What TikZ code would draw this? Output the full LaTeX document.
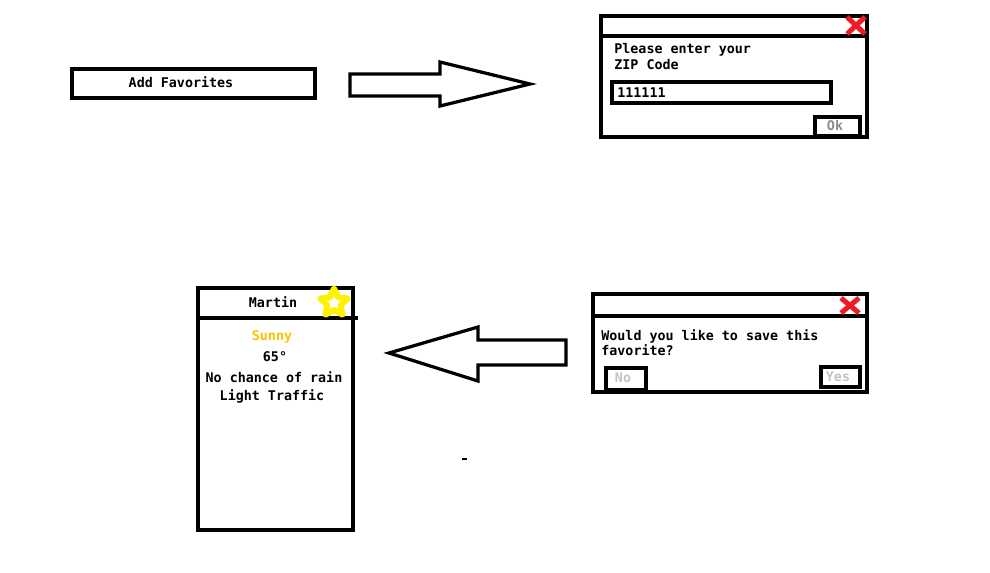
\documentclass[tikz,border=0pt]{standalone}
\usepackage{fontspec}
\setmonofont{DejaVu Sans Mono}
\usetikzlibrary{shapes.geometric}
\definecolor{paintred}{RGB}{237,28,36}
\definecolor{paintyellow}{RGB}{255,242,0}
\definecolor{sunnyorange}{RGB}{255,192,0}
\definecolor{btngray}{RGB}{195,195,195}
\definecolor{okgray}{RGB}{140,140,140}
\tikzset{
  frame/.style={line width=0.09cm},
  arrowframe/.style={line width=0.065cm, line join=miter},
  lbl/.style={font=\ttfamily\bfseries\fontsize{7.6}{9}\selectfont, inner sep=0pt},
  closex/.style={draw=paintred, line width=0.1cm},
}

\begin{document}
\begin{tikzpicture}[x=0.02cm,y=-0.02cm]
  \useasboundingbox (0,0) rectangle (990,572);
  % add favorites button
  \draw[frame] (72,69) rectangle (315,98);
  \node[lbl] (addfav) at (181,82) {Add Favorites};
  \draw[arrowframe] (350,74) -- (440,74) -- (440,62) -- (530,84)
    -- (440,106) -- (440,96) -- (350,96) -- cycle;
  % zip dialog
  \draw[frame]
    (601,16) rectangle (867,137)
    (601,36) -- (867,36)
    (612,82) rectangle (831,103)
    (815,117) rectangle (860,136);
  \draw[closex] (847,17) -- (865,34) (865,17) -- (847,34);
  \node[lbl, anchor=west] (zipask) at (614,50) {Please enter your};
  \node[lbl, anchor=west] (zipword) at (614,65) {ZIP Code};
  \node[lbl, anchor=west] (zipval) at (617,93) {111111};
  \node[lbl, text=okgray] (okbtn) at (835,126) {Ok};
  % save dialog
  \draw[frame]
    (593,294) rectangle (867,392)
    (593,316) -- (867,316)
    (606,368) rectangle (646,390)
    (821,367) rectangle (860,387);
  \draw[closex] (841,298) -- (859,313) (859,298) -- (841,313);
  \node[lbl, anchor=west] (saveask) at (601,336) {Would you like to save this};
  \node[lbl, anchor=west] (savefav) at (601,350) {favorite?};
  \node[lbl, text=btngray] (nobtn) at (623,378) {No};
  \node[lbl, text=btngray] (yesbtn) at (838,377) {Yes};
  \draw[arrowframe] (566,340) -- (478,340) -- (478,327) -- (389,353)
    -- (478,381) -- (478,365) -- (566,365) -- cycle;
  % favorite card
  \draw[frame]
    (198,288) rectangle (353,530)
    (198,318) -- (358,318);
  \node[lbl] (cardname) at (273,302) {Martin};
  \node[star, star points=5, star point ratio=2.1, minimum size=0.58cm,
    draw=paintyellow, fill=white, line width=0.12cm, line join=round,
    inner sep=0pt] (favstar) at (334,303) {};
  \node[lbl, text=sunnyorange] (sunny) at (272,337) {Sunny};
  \node[lbl] (temp) at (275,357) {65°};
  \node[lbl] (rain) at (274,377) {No chance of rain};
  \node[lbl] (traffic) at (272,396) {Light Traffic};
  \draw[line width=0.04cm] (462,459) -- (467,459);
\end{tikzpicture}
\end{document}
